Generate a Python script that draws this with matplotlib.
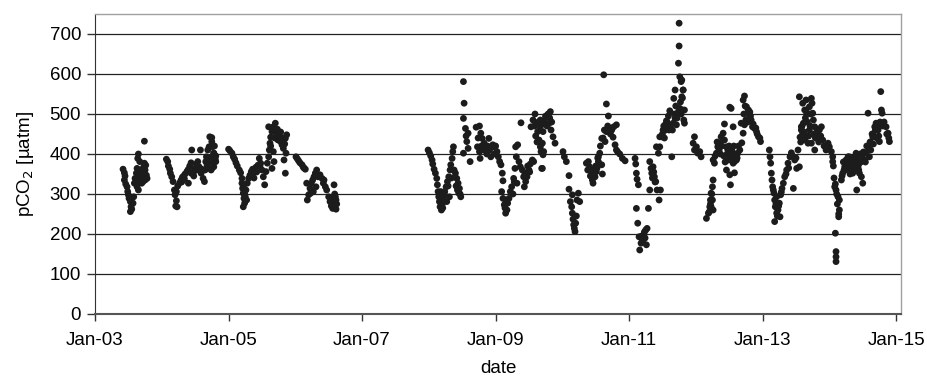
import numpy as np
import pandas as pd
import matplotlib
matplotlib.use("Agg")
import matplotlib.pyplot as plt
import matplotlib.dates as mdates

plt.rcParams['font.family'] = ['Liberation Sans', 'DejaVu Sans']

# decimal year / pCO2 (uatm)
t_2003 = [2003.42, 2003.44, 2003.45, 2003.44, 2003.46, 2003.48, 2003.49, 2003.50, 2003.51, 2003.53,
          2003.54, 2003.53, 2003.55, 2003.57, 2003.55, 2003.58, 2003.59, 2003.60, 2003.62, 2003.63,
          2003.64, 2003.65, 2003.67, 2003.68, 2003.65, 2003.63, 2003.69, 2003.70, 2003.72, 2003.73,
          2003.74, 2003.75, 2003.77, 2003.78, 2003.75, 2003.74, 2003.72,
          2003.66, 2003.70, 2003.72, 2003.68, 2003.62, 2003.76]
p_2003 = [362, 353, 345, 335, 325, 318, 306, 298, 289, 281,
          268, 256, 262, 277, 289, 293, 327, 339, 352, 364,
          389, 400, 381, 360, 310, 318, 343, 327, 352, 368,
          377, 360, 347, 339, 335, 432, 331,
          345, 360, 340, 330, 330, 372]

t_2004 = [2004.07, 2004.09, 2004.10, 2004.12, 2004.13, 2004.15, 2004.17, 2004.19, 2004.20, 2004.22,
          2004.21, 2004.23, 2004.22, 2004.24, 2004.27, 2004.29, 2004.31, 2004.33, 2004.35, 2004.38,
          2004.40, 2004.42, 2004.44, 2004.40, 2004.45, 2004.48, 2004.50, 2004.52, 2004.54, 2004.56,
          2004.58, 2004.59, 2004.62, 2004.64, 2004.65, 2004.66, 2004.67, 2004.69, 2004.71, 2004.75,
          2004.72, 2004.75, 2004.76, 2004.78, 2004.80, 2004.78, 2004.74, 2004.72, 2004.75, 2004.76,
          2004.78, 2004.80, 2004.77, 2004.75, 2004.81,
          2004.30, 2004.34, 2004.44, 2004.48, 2004.52, 2004.60, 2004.68, 2004.70, 2004.79, 2004.81]
p_2004 = [387, 381, 370, 362, 352, 343, 331, 310, 298, 283,
          270, 268, 306, 320, 328, 335, 342, 345, 350, 357,
          362, 370, 378, 327, 410, 356, 364, 375, 381, 368,
          410, 352, 339, 331, 360, 381, 393, 410, 418, 441,
          389, 381, 393, 402, 385, 368, 360, 443, 431, 418,
          402, 389, 377, 364, 381,
          330, 338, 352, 345, 360, 362, 372, 385, 420, 395]

t_2005 = [2005.00, 2005.02, 2005.05, 2005.07, 2005.09, 2005.11, 2005.13, 2005.16, 2005.18, 2005.20,
          2005.20, 2005.21, 2005.22, 2005.23, 2005.24, 2005.22, 2005.25, 2005.26, 2005.28, 2005.30,
          2005.32, 2005.34, 2005.36, 2005.39, 2005.41, 2005.44, 2005.46, 2005.48, 2005.50, 2005.52,
          2005.54, 2005.56, 2005.58, 2005.60, 2005.61, 2005.62, 2005.63, 2005.60, 2005.65, 2005.67,
          2005.70, 2005.72, 2005.74, 2005.76, 2005.78, 2005.80, 2005.82, 2005.85, 2005.87, 2005.86,
          2005.83, 2005.85, 2005.68, 2005.65, 2005.67,
          2005.22, 2005.24, 2005.27, 2005.35, 2005.38, 2005.42, 2005.47, 2005.63, 2005.69, 2005.73,
          2005.78, 2005.81, 2005.84]
p_2005 = [412, 408, 402, 393, 387, 378, 370, 360, 353, 339,
          327, 314, 302, 289, 277, 268, 293, 310, 327, 339,
          347, 356, 362, 358, 367, 372, 389, 377, 360, 343,
          323, 356, 377, 393, 410, 427, 442, 468, 456, 468,
          477, 450, 435, 445, 431, 423, 414, 439, 448, 402,
          385, 352, 381, 364, 406,
          318, 300, 285, 348, 340, 355, 370, 420, 440, 462,
          455, 440, 425]

t_2006 = [2006.01, 2006.03, 2006.05, 2006.07, 2006.10, 2006.12, 2006.15, 2006.17, 2006.18, 2006.20,
          2006.22, 2006.24, 2006.26, 2006.28, 2006.30, 2006.32, 2006.34, 2006.31, 2006.27, 2006.23,
          2006.37, 2006.40, 2006.42, 2006.45, 2006.47, 2006.50, 2006.52, 2006.54, 2006.56, 2006.58,
          2006.60, 2006.60, 2006.61, 2006.57,
          2006.43, 2006.55, 2006.59, 2006.62, 2006.61, 2006.13]
p_2006 = [393, 388, 383, 378, 373, 367, 362, 327, 285, 298,
          314, 327, 335, 343, 352, 360, 343, 318, 306, 302,
          348, 339, 327, 318, 310, 293, 281, 270, 264, 323,
          293, 278, 262, 285,
          335, 290, 300, 275, 285, 365]

t_2008 = [2007.99, 2008.01, 2008.03, 2008.05, 2008.06, 2008.08, 2008.10, 2008.12, 2008.13, 2008.14,
          2008.15, 2008.16, 2008.17, 2008.19, 2008.20, 2008.22, 2008.24, 2008.26, 2008.28, 2008.30,
          2008.32, 2008.33, 2008.35, 2008.36, 2008.37, 2008.38, 2008.40, 2008.42, 2008.44, 2008.46,
          2008.48, 2008.45, 2008.31, 2008.27, 2008.21, 2008.18,
          2008.17, 2008.19, 2008.21, 2008.23, 2008.29, 2008.34, 2008.41, 2008.43, 2008.47,
          2008.52, 2008.53, 2008.52, 2008.55, 2008.56, 2008.57, 2008.52, 2008.59, 2008.59, 2008.62,
          2008.71, 2008.76, 2008.78, 2008.80, 2008.73, 2008.76, 2008.77, 2008.83, 2008.85, 2008.88,
          2008.90, 2008.91, 2008.93, 2008.96, 2008.99, 2009.02, 2009.04, 2009.06, 2009.08, 2009.10,
          2009.11,
          2008.74, 2008.79, 2008.82, 2008.87, 2008.92, 2008.98, 2009.00]
p_2008 = [410, 403, 395, 385, 375, 362, 352, 339, 323, 306,
          293, 281, 268, 260, 273, 289, 306, 318, 331, 343,
          360, 373, 389, 406, 418, 360, 352, 339, 327, 314,
          293, 302, 293, 281, 293, 306,
          290, 275, 265, 300, 320, 340, 320, 310, 300,
          581, 527, 489, 464, 445, 431, 402, 452, 414, 381,
          467, 470, 452, 439, 418, 406, 389, 427, 414, 420,
          439, 410, 393, 423, 417, 406, 393, 381, 373, 352,
          333,
          440, 420, 410, 400, 415, 400, 420]

t_2009 = [2009.09, 2009.11, 2009.13, 2009.15, 2009.17, 2009.18, 2009.20, 2009.22, 2009.24, 2009.27,
          2009.29, 2009.31, 2009.30, 2009.33, 2009.35, 2009.37, 2009.38, 2009.40, 2009.42, 2009.43,
          2009.45, 2009.47, 2009.50, 2009.52, 2009.55, 2009.57, 2009.53, 2009.56, 2009.59, 2009.61,
          2009.63, 2009.65, 2009.67, 2009.68, 2009.70, 2009.71, 2009.75, 2009.79, 2009.46, 2009.32,
          2009.67, 2009.69, 2009.71, 2009.70, 2009.72, 2009.69, 2009.75, 2009.79, 2009.82, 2009.80,
          2009.83, 2009.86, 2009.89,
          2009.14, 2009.16, 2009.26, 2009.28, 2009.44, 2009.48, 2009.51, 2009.58, 2009.60, 2009.62,
          2009.64, 2009.66, 2009.73, 2009.77, 2009.81, 2009.84]
p_2009 = [306, 289, 273, 252, 260, 277, 289, 306, 318, 339,
          364, 393, 418, 423, 381, 368, 478, 360, 343, 318,
          331, 343, 360, 375, 385, 381, 468, 485, 500, 473,
          456, 435, 418, 406, 364, 398, 493, 500, 352, 327,
          485, 473, 456, 427, 406, 364, 495, 500, 506, 477,
          460, 443, 427,
          265, 280, 300, 330, 350, 370, 355, 470, 445, 430,
          480, 460, 480, 470, 490, 480]

t_2010 = [2010.01, 2010.03, 2010.06, 2010.10, 2010.10, 2010.12, 2010.15, 2010.14, 2010.15, 2010.16,
          2010.17, 2010.19, 2010.20, 2010.21, 2010.22, 2010.24, 2010.26, 2010.18,
          2010.36, 2010.39, 2010.41, 2010.44, 2010.46, 2010.49, 2010.51, 2010.54, 2010.56, 2010.54,
          2010.59, 2010.60, 2010.59, 2010.64, 2010.66, 2010.69, 2010.66, 2010.62, 2010.74, 2010.77,
          2010.81, 2010.76, 2010.79, 2010.81, 2010.86, 2010.90, 2010.94,
          2010.38, 2010.42, 2010.45, 2010.47, 2010.50, 2010.52, 2010.53, 2010.57, 2010.61, 2010.63,
          2010.68, 2010.72, 2010.83]
p_2010 = [406, 393, 381, 346, 312, 281, 298, 268, 252, 237,
          223, 206, 227, 245, 285, 302, 281, 214,
          377, 381, 368, 352, 327, 343, 356, 381, 402, 393,
          373, 350, 439, 431, 456, 495, 525, 598, 460, 468,
          473, 442, 423, 410, 400, 389, 383,
          360, 345, 335, 360, 370, 365, 390, 420, 440, 460,
          470, 450, 405]

t_2011 = [2011.09, 2011.10, 2011.11, 2011.12, 2011.14, 2011.11, 2011.13, 2011.15, 2011.16, 2011.18,
          2011.20, 2011.22, 2011.25, 2011.27, 2011.26, 2011.29, 2011.31, 2011.33, 2011.34, 2011.36,
          2011.38, 2011.40, 2011.42, 2011.45, 2011.31, 2011.47,
          2011.44, 2011.46, 2011.49, 2011.51, 2011.54, 2011.56, 2011.59, 2011.61, 2011.64, 2011.66,
          2011.69, 2011.71, 2011.65, 2011.74, 2011.76, 2011.79, 2011.81, 2011.79, 2011.80, 2011.82,
          2011.74, 2011.75, 2011.75, 2011.69, 2011.67, 2011.46, 2011.41,
          2011.76, 2011.78, 2011.81, 2011.83, 2011.83,
          2011.19, 2011.21, 2011.23, 2011.24, 2011.35, 2011.37, 2011.39, 2011.50, 2011.52, 2011.53,
          2011.55, 2011.57, 2011.60, 2011.62, 2011.68, 2011.70, 2011.72, 2011.77, 2011.78, 2011.80]
p_2011 = [389, 375, 352, 337, 323, 264, 227, 193, 160, 177,
          185, 198, 210, 214, 173, 264, 381, 364, 352, 368,
          343, 331, 310, 285, 310, 310,
          402, 418, 443, 460, 473, 483, 495, 508, 393, 477,
          489, 473, 460, 506, 514, 543, 560, 585, 510, 485,
          627, 670, 727, 560, 539, 443, 418,
          593, 581, 560, 510, 477,
          195, 185, 205, 190, 340, 355, 330, 450, 470, 440,
          460, 480, 460, 470, 500, 520, 490, 530, 500, 540]

t_2012 = [2011.98, 2011.96, 2011.98, 2012.03, 2012.08, 2012.06, 2012.01,
          2012.26, 2012.25, 2012.23, 2012.22, 2012.21, 2012.19, 2012.16, 2012.23, 2012.25, 2012.26,
          2012.26, 2012.28, 2012.31, 2012.33, 2012.36, 2012.38, 2012.41, 2012.43, 2012.46, 2012.48,
          2012.51, 2012.53, 2012.56, 2012.58, 2012.61, 2012.63, 2012.66, 2012.51, 2012.53, 2012.43,
          2012.56, 2012.46, 2012.51, 2012.52, 2012.58, 2012.69, 2012.71, 2012.73, 2012.75, 2012.77,
          2012.79, 2012.82, 2012.85, 2012.88, 2012.91, 2012.94, 2012.97, 2012.71, 2012.73, 2012.76,
          2012.80, 2012.68,
          2012.29, 2012.32, 2012.35, 2012.37, 2012.39, 2012.42, 2012.44, 2012.47, 2012.49, 2012.50,
          2012.54, 2012.55, 2012.57, 2012.60, 2012.62, 2012.64, 2012.20, 2012.22, 2012.24,
          2012.72, 2012.74, 2012.78, 2012.81, 2012.83, 2012.86, 2012.90, 2012.92, 2012.96]
p_2012 = [443, 427, 410, 402, 393, 406, 418,
          335, 318, 302, 285, 268, 252, 239, 268, 285, 260,
          385, 377, 402, 418, 427, 443, 452, 435, 418, 410,
          402, 393, 377, 381, 385, 402, 410, 517, 514, 475,
          468, 360, 348, 323, 353, 428, 452, 473, 485, 502,
          510, 495, 468, 464, 456, 443, 431, 535, 545, 518,
          489, 477,
          395, 430, 410, 400, 420, 395, 380, 400, 385, 420,
          410, 395, 420, 400, 390, 420, 255, 275, 300,
          500, 520, 480, 505, 485, 475, 465, 450, 440]

t_2013 = [2013.10, 2013.11, 2013.12, 2013.13, 2013.15, 2013.17, 2013.18, 2013.19, 2013.21, 2013.18,
          2013.23, 2013.25, 2013.27, 2013.29, 2013.31, 2013.33, 2013.36, 2013.38, 2013.41, 2013.43,
          2013.46, 2013.48, 2013.51, 2013.53, 2013.56, 2013.58, 2013.61, 2013.63, 2013.65, 2013.55,
          2013.21, 2013.26,
          2013.60, 2013.65, 2013.70, 2013.73, 2013.74, 2013.75, 2013.76, 2013.78, 2013.80, 2013.83,
          2013.85, 2013.88, 2013.90, 2013.78, 2013.60, 2013.63, 2013.65, 2013.68, 2013.55, 2013.58,
          2013.70, 2013.73,
          2013.14, 2013.16, 2013.20, 2013.22, 2013.24, 2013.28, 2013.35, 2013.39, 2013.45, 2013.50,
          2013.57, 2013.59, 2013.62, 2013.64, 2013.66, 2013.67, 2013.69, 2013.71, 2013.72, 2013.77,
          2013.79, 2013.82, 2013.84, 2013.87, 2013.92, 2013.95]
p_2013 = [410, 393, 377, 352, 318, 302, 285, 268, 252, 231,
          260, 277, 298, 314, 327, 343, 360, 377, 393, 403,
          314, 385, 364, 410, 442, 460, 477, 510, 535, 543,
          293, 243,
          527, 510, 518, 539, 527, 502, 485, 468, 452, 443,
          460, 468, 435, 410, 452, 435, 443, 427, 368, 468,
          460, 427,
          335, 310, 275, 245, 270, 305, 350, 365, 395, 390,
          430, 470, 455, 490, 500, 480, 445, 470, 500, 450,
          440, 455, 430, 445, 420, 410]

t_2014 = [2013.98, 2014.00, 2014.03, 2014.05, 2014.05, 2014.08, 2014.10, 2014.13, 2014.15, 2014.15,
          2014.14, 2014.09, 2014.10, 2014.10, 2014.10,
          2014.18, 2014.20, 2014.23, 2014.25, 2014.28, 2014.30, 2014.33, 2014.35, 2014.38, 2014.40,
          2014.43, 2014.45, 2014.48, 2014.50, 2014.41, 2014.53, 2014.55, 2014.58, 2014.60, 2014.63,
          2014.65, 2014.68, 2014.70, 2014.73, 2014.75, 2014.78, 2014.79, 2014.58, 2014.85, 2014.88,
          2014.90, 2014.77, 2014.24, 2014.30, 2014.35, 2014.45,
          2014.06, 2014.07, 2014.09, 2014.11, 2014.12, 2014.14, 2014.19, 2014.21, 2014.22, 2014.26,
          2014.27, 2014.29, 2014.31, 2014.32, 2014.34, 2014.36, 2014.37, 2014.39, 2014.42, 2014.44,
          2014.46, 2014.47, 2014.49, 2014.51, 2014.54, 2014.56, 2014.59, 2014.61, 2014.62, 2014.64,
          2014.66, 2014.67, 2014.69, 2014.71, 2014.72, 2014.74, 2014.76, 2014.80, 2014.82, 2014.86,
          2014.89]
p_2014 = [427, 418, 406, 393, 381, 318, 310, 293, 285, 260,
          243, 202, 156, 143, 131,
          335, 352, 368, 385, 393, 368, 360, 377, 393, 402,
          368, 352, 343, 327, 310, 385, 402, 418, 393, 427,
          443, 468, 477, 460, 431, 510, 502, 502, 468, 452,
          431, 556, 360, 393, 352, 377,
          370, 340, 325, 300, 275, 250, 345, 380, 360, 375,
          365, 380, 350, 385, 370, 360, 380, 370, 385, 360,
          400, 380, 395, 405, 380, 420, 410, 430, 410, 450,
          425, 445, 460, 440, 470, 445, 480, 470, 480, 450,
          440]

years = t_2003 + t_2004 + t_2005 + t_2006 + t_2008 + t_2009 + t_2010 + t_2011 + t_2012 + t_2013 + t_2014
pco2 = p_2003 + p_2004 + p_2005 + p_2006 + p_2008 + p_2009 + p_2010 + p_2011 + p_2012 + p_2013 + p_2014


def to_date(y):
    base = pd.Timestamp(year=int(y), month=1, day=1)
    return base + pd.Timedelta(days=(y - int(y)) * 365.25)


dates = [to_date(y) for y in years]

fig = plt.figure(figsize=(9.28, 3.8), dpi=100)
ax = fig.add_axes([95 / 928, 1 - 314 / 380, 806 / 928, 300 / 380])

ax.scatter(dates, pco2, s=24, color='#1c1c1c', edgecolors='none', zorder=3)

ax.set_ylim(0, 750)
ax.set_yticks(np.arange(0, 701, 100))
ax.set_xlim(pd.Timestamp('2003-01-01'), pd.Timestamp('2015-01-28'))
ax.set_xticks([pd.Timestamp(f'{y}-01-01') for y in range(2003, 2016, 2)])
ax.xaxis.set_major_formatter(mdates.DateFormatter('%b-%y'))

ax.grid(axis='y', color='#222222', linewidth=0.9, zorder=1)
ax.set_axisbelow(True)

for side in ['top', 'right']:
    ax.spines[side].set_color('#a0a0a0')
    ax.spines[side].set_linewidth(1.0)
ax.spines['left'].set_color('#333333')
ax.spines['bottom'].set_color('#555555')
ax.spines['bottom'].set_linewidth(1.5)

ax.tick_params(axis='y', direction='out', length=6, width=1, color='#333333', labelsize=13.5, pad=4)
ax.tick_params(axis='x', direction='out', length=5, width=1, color='#333333', labelsize=13.5, pad=8)

ax.set_ylabel('pCO$_2$ [µatm]', fontsize=13.5, labelpad=10)
ax.set_xlabel('date', fontsize=13.5, labelpad=8)

fig.savefig('out.png', dpi=100)
